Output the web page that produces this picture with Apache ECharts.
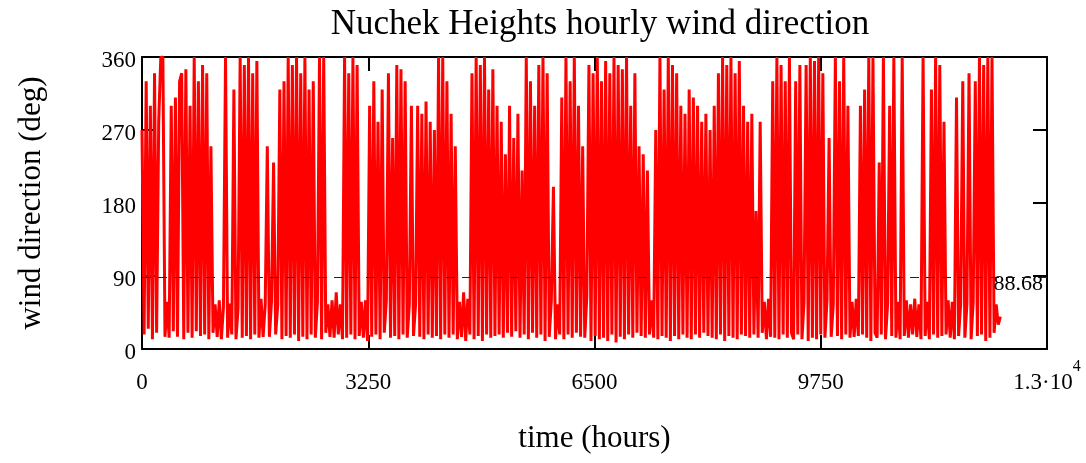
<!DOCTYPE html>
<html>
<head>
<meta charset="utf-8">
<script src="https://cdn.jsdelivr.net/npm/echarts@6/dist/echarts.min.js"></script>
<style>
  html, body { margin: 0; padding: 0; background: #fff; }
  #chart { width: 1086px; height: 463px; }
</style>
</head>
<body>
<div id="chart"></div>
<script>
// hourly wind direction (one value every stepHours)
var stepHours = 30;
var windDir = [
    270,18,330,25,300,12,340,20,280,360,
    360,15,58,14,300,22,310,15,330,340,
    12,345,20,300,14,360,22,330,16,350,
    18,340,12,250,20,55,15,60,12,52,
    360,14,56,18,320,12,50,360,14,350,
    16,360,12,340,18,355,14,62,15,55,
    250,15,58,230,18,54,320,12,330,16,
    360,14,350,18,360,10,340,15,360,12,
    320,18,330,14,58,360,12,360,20,55,15,
    60,14,70,18,55,12,360,14,340,18,
    360,12,350,16,58,14,60,10,300,15,
    330,18,280,12,320,20,60,340,14,260,
    16,350,12,345,18,330,14,55,300,16,
    55,300,15,290,12,305,18,280,14,270,
    16,360,12,360,18,330,14,290,18,250,
    12,58,15,70,10,62,18,340,12,360,
    16,350,10,360,18,320,14,345,16,300,
    18,280,14,240,20,300,15,260,22,290,
    14,220,18,360,12,330,20,300,14,350,
    18,360,10,340,15,60,200,12,55,18,
    310,12,360,18,330,14,360,20,300,15,
    250,14,65,350,10,340,16,360,12,330,
    14,355,10,340,18,360,8,350,15,345,12,
    360,18,300,14,340,20,250,16,240,14,
    220,18,60,14,270,12,360,16,320,14,
    360,10,350,16,340,12,300,18,290,14,
    320,12,310,18,300,14,280,20,290,16,
    270,14,300,12,340,18,360,10,350,16,
    360,14,340,12,355,18,300,16,280,14,
    290,18,170,14,280,20,58,12,62,15,
    330,14,360,12,350,18,330,14,360,20,
    12,330,18,350,12,58,350,10,360,14,
    355,12,360,18,340,14,60,260,15,55,
    360,16,330,12,360,18,300,14,58,15,
    62,16,300,18,320,14,360,10,360,20,
    14,230,18,360,12,55,300,16,360,14,
    58,12,360,16,60,14,55,18,62,15,
    55,12,360,16,58,12,320,18,360,14,350,
    16,280,18,60,14,58,12,310,16,55,
    330,14,55,340,12,58,330,16,360,18,
    350,10,360,14,360,20,55,30,40
];
var meanDir = 88.68;
var xTicks = [0, 13000, 3250];   // min, max, step
var yTicks = [0, 360, 90];

var chart = echarts.init(document.getElementById('chart'));

var serif = 'Liberation Serif';
var seriesData = windDir.map(function(v, i) { return [i * stepHours, v]; });

// every label gets the same (raised) second token so they all sit on one baseline
function xLabel(v) {
    if (v === 13000) return '{a|1.3·10}{s|4}';
    return '{a|' + v + '}{p| }';
}

var frameLine = { onZero: false, lineStyle: { color: '#000', width: 2 } };
var frameTick = { show: true, inside: true, length: 14, lineStyle: { color: '#000', width: 2 } };

var option = {
    animation: false,
    title: {
        text: 'Nuchek Heights hourly wind direction',
        left: 595,
        textAlign: 'center',
        top: 2,
        textStyle: { fontFamily: serif, fontSize: 35, fontWeight: 'normal', color: '#000' }
    },
    grid: { left: 142, right: 39, top: 57, bottom: 114 },
    xAxis: [
        {
            type: 'value', min: xTicks[0], max: xTicks[1], interval: xTicks[2],
            name: 'time (hours)', nameLocation: 'middle', nameGap: 74,
            nameTextStyle: { fontFamily: serif, fontSize: 31, color: '#000' },
            axisLine: frameLine,
            axisTick: frameTick,
            splitLine: { show: false },
            axisLabel: {
                margin: 10, fontFamily: serif, fontSize: 23, color: '#000',
                formatter: xLabel,
                rich: {
                    a: { fontFamily: serif, fontSize: 23, color: '#000' },
                    s: { fontFamily: serif, fontSize: 16, color: '#000', padding: [0, 0, 32, 0] },
                    p: { fontFamily: serif, fontSize: 16, width: 0, padding: [0, 0, 32, 0] }
                }
            }
        },
        {
            type: 'value', position: 'top', min: xTicks[0], max: xTicks[1], interval: xTicks[2],
            axisLine: frameLine,
            axisTick: frameTick,
            axisLabel: { show: false },
            splitLine: { show: false }
        }
    ],
    yAxis: [
        {
            type: 'value', min: yTicks[0], max: yTicks[1], interval: yTicks[2],
            name: 'wind direction (deg)', nameLocation: 'middle', nameGap: 95,
            nameTextStyle: { fontFamily: serif, fontSize: 31, color: '#000' },
            axisLine: frameLine,
            axisTick: frameTick,
            splitLine: { show: false },
            axisLabel: {
                margin: 6, fontFamily: serif, fontSize: 23, color: '#000',
                formatter: function(v) { return '{y|' + v + '}'; },
                rich: { y: { fontFamily: serif, fontSize: 23, color: '#000', padding: [8, 0, 0, 0] } }
            }
        },
        {
            type: 'value', position: 'right', min: yTicks[0], max: yTicks[1], interval: yTicks[2],
            axisLine: frameLine,
            axisTick: frameTick,
            axisLabel: { show: false },
            splitLine: { show: false }
        }
    ],
    series: [
        {
            type: 'line',
            data: seriesData,
            showSymbol: false,
            symbol: 'none',
            lineStyle: { color: '#ff0000', width: 3 },
            markLine: {
                silent: true,
                symbol: 'none',
                lineStyle: { color: '#222', width: 1, type: [9, 7] },
                label: {
                    position: 'insideEndBottom', distance: [4, -4],
                    formatter: function() { return meanDir.toFixed(2); },
                    fontFamily: serif, fontSize: 22, color: '#000'
                },
                data: [{ yAxis: meanDir }]
            }
        }
    ]
};

chart.setOption(option);
</script>
</body>
</html>
